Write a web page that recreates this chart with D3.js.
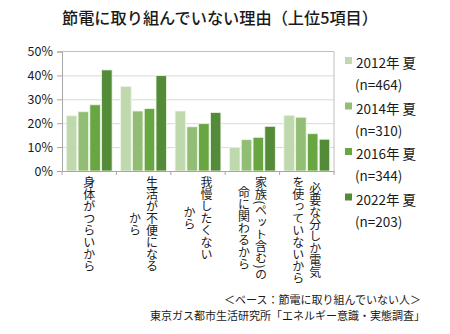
<!DOCTYPE html>
<html><head><meta charset="utf-8">
<script src="https://cdn.jsdelivr.net/npm/d3@7"></script>
<style>
body{margin:0;background:#fff;}
text{font-family:"Noto Sans CJK JP","Noto Sans",sans-serif;fill:#1a1a1a;}
</style></head>
<body><svg id="c" width="450" height="334"></svg>
<script>
const categories = [
  ["身体がつらいから"],
  ["生活が不便になる","から"],
  ["我慢したくない","から"],
  ["家族(ペット含む)の","命に関わるから"],
  ["必要な分しか電気","を使っていないから"]
];
const seriesNames = ["2012年 夏","2014年 夏","2016年 夏","2022年 夏"];
const seriesN = ["(n=464)","(n=310)","(n=344)","(n=203)"];
const v2012 = [23.1, 35.4, 25.1, 9.9, 23.3];
const v2014 = [24.8, 25.1, 18.5, 13.1, 22.5];
const v2016 = [27.7, 26.1, 19.8, 14.1, 15.6];
const v2022 = [42.3, 39.9, 24.5, 18.7, 13.3];
const yTicks = [0,10,20,30,40,50];
const colors = ["#bfd8ad","#92bd75","#68a642","#548b39"];
const series = [v2012, v2014, v2016, v2022];

const svg = d3.select("#c");
const L=62, R=334, T=51.5, B=171;
const x0 = d3.scaleBand().domain(d3.range(categories.length)).range([L,R]);
const x1 = d3.scaleBand().domain(d3.range(series.length)).range([4.3, x0.bandwidth()-4.3]).paddingInner(0.11);
const y = d3.scaleLinear().domain([0,50]).range([B,T]);

svg.append("text").attr("x",220).attr("y",24).attr("text-anchor","middle")
  .style("font-size","16.2px").style("font-weight","500")
  .text("節電に取り組んでいない理由（上位5項目）");

// gridlines
svg.append("g").selectAll("line").data(yTicks.filter(t=>t>0&&t<50)).join("line")
  .attr("x1",L).attr("x2",R).attr("y1",d=>y(d)+0.5).attr("y2",d=>y(d)+0.5)
  .attr("stroke","#d9d9d9").attr("stroke-width",1);
// frame top/right
svg.append("line").attr("x1",L).attr("x2",R).attr("y1",T).attr("y2",T).attr("stroke","#bfbfbf");
svg.append("line").attr("x1",R).attr("x2",R).attr("y1",T).attr("y2",B).attr("stroke","#bfbfbf");

// bars
const g = svg.append("g");
series.forEach((s,si)=>{
  g.selectAll(null).data(s).join("rect")
    .attr("x",(d,i)=>x0(i)+x1(si))
    .attr("width",x1.bandwidth())
    .attr("y",d=>y(d))
    .attr("height",d=>B-y(d))
    .attr("fill",colors[si])
    .attr("stroke","#eef5e8").attr("stroke-width",0.8);
});

// y axis
const ya = d3.axisLeft(y).tickValues(yTicks).tickFormat(d=>d+"%").tickSize(5).tickPadding(4);
const yg = svg.append("g").attr("transform",`translate(${L},0)`).call(ya);
yg.select(".domain").attr("stroke","#a6a6a6");
yg.selectAll(".tick line").attr("stroke","#a6a6a6");
yg.selectAll("text").style("font-size","12.5px").style("fill","#1a1a1a").attr("font-family",null);

// x axis
const xa = d3.axisBottom(x0).tickValues([]).tickSizeOuter(0);
const xg = svg.append("g").attr("transform",`translate(0,${B})`).call(xa);
xg.select(".domain").attr("stroke","#a6a6a6");
const bounds = d3.range(categories.length+1).map(i=> i<categories.length? x0(i): R);
xg.selectAll("line.bt").data(bounds).join("line").attr("class","bt")
  .attr("x1",d=>d).attr("x2",d=>d).attr("y1",0).attr("y2",4).attr("stroke","#a6a6a6");

// category labels vertical
const labelTop = 176.5;
categories.forEach((lines,i)=>{
  const cx = x0(i)+x0.bandwidth()/2;
  const n = lines.length;
  const texts = lines.map((ln,j)=>{
    const off = (n===1)?0:((j===0)? 8.5 : -8.5);
    return svg.append("text")
      .attr("x",cx+off).attr("y",labelTop)
      .attr("writing-mode","vertical-rl")
      .attr("text-anchor","start")
      .style("font-size","12px")
      .text(ln);
  });
  const lens = texts.map(t=>t.node().getComputedTextLength());
  const maxL = Math.max(...lens);
  texts.forEach((t,j)=>t.attr("y",labelTop+(maxL-lens[j])/2));
});

// legend
seriesNames.forEach((nm,i)=>{
  const yy = 63 + i*45.5;
  svg.append("rect").attr("x",345).attr("y",yy-6).attr("width",7).attr("height",7).attr("fill",colors[i]);
  svg.append("text").attr("x",356).attr("y",yy+5).style("font-size","13.5px").text(nm);
  svg.append("text").attr("x",355).attr("y",yy+27).style("font-size","13.5px").text(seriesN[i]);
});

// footnotes
svg.append("text").attr("x",421).attr("y",304).attr("text-anchor","end").style("font-size","11px")
  .text("＜ベース：節電に取り組んでいない人＞");
svg.append("text").attr("x",425).attr("y",320).attr("text-anchor","end").style("font-size","11px")
  .text("東京ガス都市生活研究所「エネルギー意識・実態調査」");
</script></body></html>
